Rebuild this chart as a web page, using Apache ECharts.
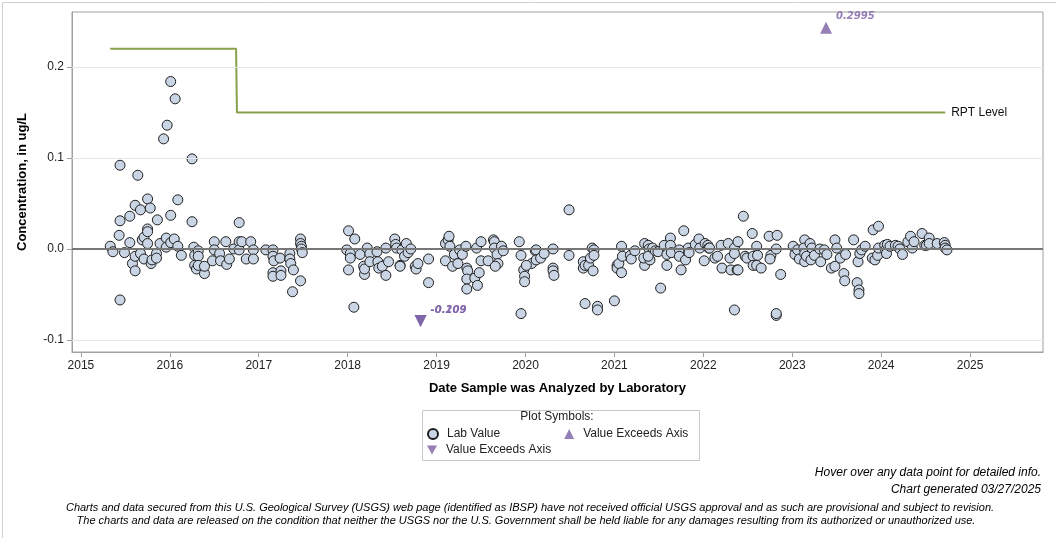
<!doctype html>
<html lang="en">
  <head>
    <meta charset="utf-8">
    <title>Concentration, in ug/L</title>
    <script src="https://cdn.jsdelivr.net/npm/echarts@6.0.0/dist/echarts.min.js"></script>
    <style>
      html, body { margin: 0; padding: 0; background: #fff; }
      #chart { width: 1056px; height: 538px; }
    </style>
  </head>
  <body>
    <div id="chart"></div>
  <script>
    // Lab values: [decimal year, concentration ug/L]
    var labValues = [
      [2015.33, 0.003], [2015.36, -0.003], [2015.43, 0.015], [2015.44, 0.031], [2015.44, 0.092],
      [2015.44, -0.056], [2015.49, -0.004], [2015.55, 0.036], [2015.55, 0.007], [2015.58, -0.016],
      [2015.61, 0.048], [2015.61, -0.008], [2015.61, -0.024], [2015.64, 0.081], [2015.67, 0.043],
      [2015.67, -0.005], [2015.69, 0.010], [2015.71, 0.013], [2015.71, -0.011], [2015.75, 0.055],
      [2015.75, 0.022], [2015.75, 0.019], [2015.75, 0.006], [2015.78, 0.045], [2015.79, -0.016],
      [2015.80, -0.012], [2015.85, -0.005], [2015.85, -0.010], [2015.86, 0.032], [2015.89, 0.006],
      [2015.93, 0.121], [2015.96, 0.012], [2015.96, 0.002], [2015.97, 0.136], [2016.01, 0.184],
      [2016.01, 0.037], [2016.01, 0.007], [2016.05, 0.011], [2016.06, 0.165], [2016.09, 0.054],
      [2016.09, 0.003], [2016.13, -0.007], [2016.25, 0.099], [2016.25, 0.030], [2016.27, 0.002],
      [2016.28, -0.007], [2016.28, -0.018], [2016.30, -0.022], [2016.32, -0.002], [2016.32, -0.008],
      [2016.32, -0.018], [2016.39, -0.027], [2016.39, -0.019], [2016.48, -0.013], [2016.50, 0.008],
      [2016.50, -0.001], [2016.56, -0.005], [2016.57, -0.013], [2016.63, 0.008], [2016.64, -0.017],
      [2016.67, -0.011], [2016.72, 0.000], [2016.78, 0.029], [2016.78, 0.008], [2016.78, -0.001],
      [2016.81, 0.008], [2016.86, -0.011], [2016.91, 0.008], [2016.94, -0.001], [2016.94, -0.011],
      [2017.08, -0.001], [2017.16, -0.001], [2017.16, -0.008], [2017.17, -0.013], [2017.16, -0.026],
      [2017.16, -0.030], [2017.24, -0.010], [2017.25, -0.024], [2017.25, -0.029], [2017.35, -0.005],
      [2017.35, -0.011], [2017.36, -0.016], [2017.39, -0.023], [2017.38, -0.047], [2017.47, -0.035],
      [2017.47, 0.011], [2017.47, 0.006], [2017.48, 0.003], [2017.48, 0.000], [2017.49, -0.004],
      [2018.01, 0.020], [2018.08, 0.011], [2017.99, -0.001], [2018.03, -0.005], [2018.03, -0.010],
      [2018.01, -0.023], [2018.07, -0.064], [2018.14, -0.006], [2018.18, -0.019], [2018.19, -0.028],
      [2018.19, -0.022], [2018.22, 0.001], [2018.25, -0.005], [2018.25, -0.014], [2018.33, -0.003],
      [2018.34, -0.014], [2018.35, -0.021], [2018.39, -0.019], [2018.43, 0.001], [2018.43, -0.029],
      [2018.46, -0.014], [2018.53, 0.011], [2018.54, 0.005], [2018.55, 0.001], [2018.59, -0.018],
      [2018.59, -0.019], [2018.61, -0.001], [2018.64, -0.008], [2018.66, 0.006], [2018.68, -0.004],
      [2018.71, 0.000], [2018.76, -0.019], [2018.77, -0.022], [2018.79, -0.016], [2018.91, -0.011],
      [2018.91, -0.037], [2019.10, 0.006], [2019.13, 0.010], [2019.14, 0.014], [2019.15, 0.003],
      [2019.10, -0.013], [2019.18, -0.019], [2019.20, -0.006], [2019.24, -0.016], [2019.26, -0.001],
      [2019.29, -0.006], [2019.33, 0.003], [2019.34, -0.021], [2019.35, -0.024], [2019.34, -0.033],
      [2019.34, -0.044], [2019.43, -0.032], [2019.45, 0.001], [2019.46, -0.040], [2019.48, -0.026],
      [2019.50, 0.008], [2019.50, -0.013], [2019.58, -0.013], [2019.64, 0.010], [2019.65, 0.008],
      [2019.65, 0.001], [2019.68, -0.006], [2019.69, -0.016], [2019.66, -0.019], [2019.73, 0.003],
      [2019.75, -0.002], [2019.93, 0.008], [2019.95, -0.007], [2019.98, -0.023], [2019.99, -0.030],
      [2019.99, -0.036], [2019.95, -0.071], [2020.07, -0.016], [2020.01, -0.018], [2020.11, -0.002],
      [2020.12, -0.001], [2020.12, -0.012], [2020.17, -0.010], [2020.21, -0.005], [2020.31, 0.000],
      [2020.31, -0.021], [2020.31, -0.024], [2020.32, -0.029], [2020.49, 0.043], [2020.49, -0.007],
      [2020.67, -0.060], [2020.65, -0.014], [2020.65, -0.021], [2020.67, -0.018], [2020.71, -0.018],
      [2020.73, -0.010], [2020.75, 0.001], [2020.77, -0.001], [2020.77, -0.007], [2020.76, -0.024],
      [2020.81, -0.063], [2020.81, -0.067], [2021.00, -0.057], [2021.03, -0.018], [2021.03, -0.021],
      [2021.05, -0.016], [2021.08, 0.003], [2021.09, -0.008], [2021.08, -0.026], [2021.18, -0.007],
      [2021.19, -0.011], [2021.23, -0.002], [2021.34, 0.006], [2021.34, -0.018], [2021.33, -0.010],
      [2021.38, 0.004], [2021.39, 0.000], [2021.40, -0.012], [2021.38, -0.008], [2021.43, 0.001],
      [2021.46, -0.002], [2021.49, -0.003], [2021.52, -0.043], [2021.56, 0.004], [2021.59, -0.006],
      [2021.59, -0.018], [2021.63, 0.012], [2021.63, 0.004], [2021.64, -0.004], [2021.73, -0.001],
      [2021.73, -0.008], [2021.75, -0.023], [2021.78, 0.020], [2021.80, -0.012], [2021.83, 0.001],
      [2021.84, -0.004], [2021.91, 0.005], [2021.95, 0.011], [2021.96, 0.001], [2022.01, -0.013],
      [2022.02, 0.006], [2022.05, 0.004], [2022.06, 0.001], [2022.07, 0.001], [2022.13, -0.010],
      [2022.16, -0.008], [2022.20, 0.004], [2022.21, -0.021], [2022.28, 0.006], [2022.30, -0.010],
      [2022.31, -0.023], [2022.35, -0.067], [2022.35, 0.001], [2022.35, -0.005], [2022.38, -0.023],
      [2022.39, 0.008], [2022.39, -0.023], [2022.45, 0.036], [2022.47, -0.008], [2022.49, -0.010],
      [2022.55, 0.017], [2022.56, -0.008], [2022.56, -0.018], [2022.60, 0.003], [2022.61, -0.007],
      [2022.60, -0.018], [2022.65, -0.021], [2022.74, 0.014], [2022.83, 0.015], [2022.76, -0.007],
      [2022.75, -0.011], [2022.82, 0.000], [2022.87, -0.028], [2022.82, -0.073], [2022.82, -0.071],
      [2023.01, 0.003], [2023.03, -0.006], [2023.06, -0.001], [2023.08, -0.011], [2023.14, 0.010],
      [2023.13, 0.001], [2023.14, -0.005], [2023.14, -0.014], [2023.16, -0.008], [2023.20, 0.006],
      [2023.22, 0.001], [2023.21, -0.012], [2023.25, -0.007], [2023.31, 0.000], [2023.32, -0.014],
      [2023.36, -0.001], [2023.39, -0.006], [2023.44, -0.021], [2023.48, -0.019], [2023.48, 0.010],
      [2023.50, 0.001], [2023.54, -0.010], [2023.58, -0.027], [2023.59, -0.035], [2023.60, -0.006],
      [2023.69, 0.010], [2023.73, -0.037], [2023.75, -0.045], [2023.75, -0.049], [2023.74, -0.014],
      [2023.76, -0.005], [2023.78, -0.001], [2023.82, 0.003], [2023.91, 0.021], [2023.97, 0.025],
      [2023.90, -0.010], [2023.93, -0.012], [2023.96, -0.007], [2023.97, 0.001], [2024.04, 0.004],
      [2024.05, -0.001], [2024.07, 0.005], [2024.06, -0.005], [2024.10, 0.003], [2024.16, 0.004],
      [2024.19, 0.003], [2024.21, 0.000], [2024.24, -0.006], [2024.30, 0.008], [2024.33, 0.014],
      [2024.35, 0.001], [2024.37, 0.008], [2024.46, 0.017], [2024.49, 0.004], [2024.51, 0.004],
      [2024.54, 0.012], [2024.54, 0.006], [2024.63, 0.006], [2024.71, 0.007], [2024.72, 0.004],
      [2024.72, 0.001], [2024.74, -0.001]
    ];

    // values beyond the axis: [decimal year, plotted at, actual value]
    var exceedsUp = [[2023.38, 0.243, 0.2995]];
    var exceedsDown = [[2018.82, -0.079, -0.109], [2018.82, -0.079, -0.209]];

    // reporting level step line
    var rptDates = [2015.33, 2016.745, 2016.755, 2024.72];
    var rptLevels = [0.22, 0.22, 0.15, 0.15];

    var yearTicks = [2015, 2016, 2017, 2018, 2019, 2020, 2021, 2022, 2023, 2024, 2025];
    var concTicks = [-0.1, 0.0, 0.1, 0.2];
    var gridValues = [-0.1, 0.1, 0.2];

    var font = "'Liberation Sans', Arial, sans-serif";
    var narrow = "'Liberation Sans Narrow', 'Liberation Sans', Arial, sans-serif";
    var purple = '#7b5fa5';
    var downIcon = 'path://M0,0 L10,0 L5,9 Z';

    var chart = echarts.init(document.getElementById('chart'), null, { renderer: 'canvas' });

    var option = {
      backgroundColor: '#fff',
      animation: false,
      textStyle: { fontFamily: font },
      grid: { left: 72, top: 12, right: 13, bottom: 186, show: true, borderColor: '#a0a0a0', borderWidth: 1 },
      xAxis: {
        type: 'value',
        min: 2014.9,
        max: 2025.82,
        name: 'Date Sample was Analyzed by Laboratory',
        nameLocation: 'middle',
        nameGap: 30,
        nameTextStyle: { fontWeight: 'bold', fontSize: 13, color: '#000', fontFamily: font },
        axisLine: { onZero: false, lineStyle: { color: '#a0a0a0' } },
        axisTick: { customValues: yearTicks, length: 5, lineStyle: { color: '#a0a0a0' } },
        axisLabel: { customValues: yearTicks, color: '#222', fontSize: 12, margin: 8, formatter: function (v) { return String(v); } },
        splitLine: { show: false }
      },
      yAxis: {
        type: 'value',
        min: -0.1132,
        max: 0.2604,
        name: 'Concentration, in ug/L',
        nameLocation: 'middle',
        nameGap: 43,
        nameTextStyle: { fontWeight: 'bold', fontSize: 13, color: '#000', fontFamily: font },
        axisLine: { show: true, lineStyle: { color: '#a0a0a0' } },
        axisTick: { customValues: concTicks, length: 5, lineStyle: { color: '#a0a0a0' } },
        axisLabel: { customValues: concTicks, color: '#222', fontSize: 12, margin: 8, formatter: function (v) { return v.toFixed(1); } },
        splitLine: { show: false }
      },
      legend: [
        {
          left: 427, top: 428, padding: 0,
          itemWidth: 10, itemHeight: 10, itemGap: 64,
          textStyle: { fontSize: 12, color: '#222', fontFamily: font, padding: [0, 0, 0, 4] },
          data: [{ name: 'Lab Value', icon: 'circle' }, { name: 'Value Exceeds Axis', icon: 'triangle' }],
          selectedMode: false
        },
        {
          left: 427, top: 444, padding: 0,
          itemWidth: 10, itemHeight: 10,
          textStyle: { fontSize: 12, color: '#222', fontFamily: font, padding: [0, 0, 0, 4] },
          data: [{ name: 'Value Exceeds Axis ', icon: downIcon }],
          formatter: function (n) { return n.trim(); },
          selectedMode: false
        }
      ],
      graphic: [
        { type: 'rect', left: 0, top: 0, shape: { width: 1055, height: 537 }, style: { fill: 'none', stroke: '#d0d0d0', lineWidth: 1 }, silent: true },
        { type: 'rect', left: 420, top: 408, shape: { width: 277, height: 50 }, style: { fill: 'none', stroke: '#c8c8c8', lineWidth: 1 }, silent: true },
        { type: 'text', x: 557, y: 411, style: { text: 'Plot Symbols:', font: '12px ' + font, fill: '#222', align: 'center' } },
        { type: 'text', x: 1041, y: 467, style: { text: 'Hover over any data point for detailed info.', font: 'italic 12px ' + narrow, fill: '#000', align: 'right' } },
        { type: 'text', x: 1041, y: 484, style: { text: 'Chart generated 03/27/2025', font: 'italic 12px ' + narrow, fill: '#000', align: 'right' } },
        { type: 'text', x: 530, y: 502, style: { text: 'Charts and data secured from this U.S. Geological Survey (USGS) web page (identified as IBSP) have not received official USGS approval and as such are provisional and subject to revision.', font: 'italic 11px ' + narrow, fill: '#000', align: 'center' } },
        { type: 'text', x: 526, y: 515, style: { text: 'The charts and data are released on the condition that neither the USGS nor the U.S. Government shall be held liable for any damages resulting from its authorized or unauthorized use.', font: 'italic 11px ' + narrow, fill: '#000', align: 'center' } }
      ],
      series: [
        {
          name: 'zero',
          type: 'line',
          data: [],
          silent: true,
          markLine: {
            symbol: 'none', silent: true, label: { show: false },
            data: gridValues.map(function (v) { return { yAxis: v, lineStyle: { color: '#e6e6e6', width: 1, type: 'solid' } }; })
              .concat([{ yAxis: 0, lineStyle: { color: '#777', width: 2, type: 'solid' } }])
          }
        },
        {
          name: 'RPT Level',
          type: 'line',
          data: rptDates.map(function (d, i) { return [d, rptLevels[i]]; }),
          showSymbol: false,
          lineStyle: { color: '#87a24a', width: 2 },
          itemStyle: { color: '#87a24a' },
          endLabel: { show: true, formatter: 'RPT Level', color: '#111', fontSize: 12, fontFamily: font, distance: 6 },
          z: 3
        },
        {
          name: 'Lab Value',
          type: 'scatter',
          data: labValues,
          symbol: 'circle',
          symbolSize: 10,
          itemStyle: { color: '#c9d5e4', borderColor: '#1e1e1e', borderWidth: 1, opacity: 1 },
          z: 4
        },
        {
          name: 'Value Exceeds Axis',
          type: 'scatter',
          data: exceedsUp,
          symbol: 'triangle',
          symbolSize: 12,
          itemStyle: { color: purple },
          label: {
            show: true, position: 'right', offset: [-1, -11],
            formatter: function (p) { return String(p.data[2]); },
            color: purple, fontSize: 10, fontWeight: 'bold', fontStyle: 'italic', fontFamily: "'DejaVu Sans', sans-serif"
          },
          z: 5
        },
        {
          name: 'Value Exceeds Axis ',
          type: 'scatter',
          data: exceedsDown,
          symbol: 'triangle',
          symbolRotate: 180,
          symbolSize: 12,
          itemStyle: { color: purple },
          label: {
            show: true, position: 'right', offset: [-1, -10],
            formatter: function (p) { return p.data[2].toFixed(3); },
            color: purple, fontSize: 10, fontWeight: 'bold', fontStyle: 'italic', fontFamily: "'DejaVu Sans', sans-serif"
          },
          z: 5
        }
      ]
    };

    chart.setOption(option);
    window.addEventListener('resize', chart.resize);
  </script>
  </body>
</html>
